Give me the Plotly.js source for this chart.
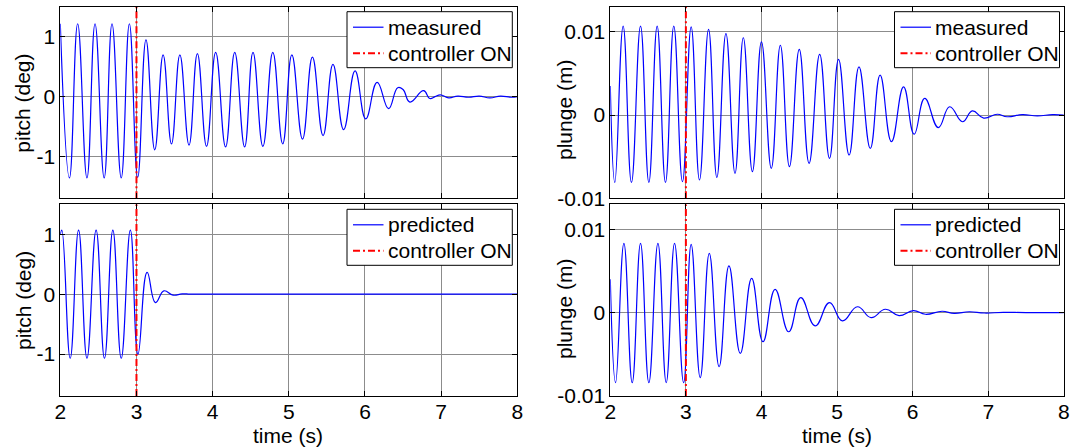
<!DOCTYPE html>
<html>
<head>
<meta charset="utf-8">
<script src="https://cdn.plot.ly/plotly-3.0.1.min.js"></script>
<style>html,body{margin:0;padding:0;background:#fff;}#chart{width:1070px;height:448px;}</style>
</head>
<body>
<div id="chart"></div>
<script>
// ---- data ----
const controllerOnTime = 3;

const pitchMeasuredTime = [2.00, 2.12, 2.228, 2.35, 2.456, 2.576, 2.679, 2.80, 2.907, 3.016, 3.125, 3.24, 3.35, 3.46, 3.57, 3.69, 3.80, 3.92, 4.04, 4.17, 4.29, 4.42, 4.53, 4.66, 4.79, 4.92, 5.04, 5.18, 5.31, 5.45, 5.58, 5.72, 5.87, 6.01, 6.16, 6.31, 6.43, 6.50, 6.59, 6.77, 6.85, 6.92, 6.99, 7.10, 7.22, 7.36, 7.50, 7.64, 7.78, 7.92, 8.00];
const pitchMeasured = [1.22, -1.36, 1.22, -1.36, 1.22, -1.36, 1.22, -1.36, 1.22, -1.35, 0.95, -0.89, 0.70, -0.79, 0.70, -0.81, 0.72, -0.83, 0.74, -0.84, 0.74, -0.84, 0.74, -0.83, 0.74, -0.79, 0.70, -0.71, 0.66, -0.65, 0.54, -0.55, 0.43, -0.37, 0.24, -0.20, 0.15, 0.12, -0.09, 0.10, -0.03, 0.00, 0.03, -0.02, 0.01, -0.01, 0.01, -0.02, 0.01, -0.01, 0.00];

const pitchPredictedTime = [2.00, 2.02, 2.13, 2.24, 2.35, 2.47, 2.58, 2.69, 2.80, 2.92, 3.02, 3.14, 3.25, 3.36, 3.48, 3.60, 3.70, 3.80, 4.00, 8.00];
const pitchPredicted = [1.00, 1.07, -1.07, 1.07, -1.07, 1.07, -1.07, 1.07, -1.07, 1.07, -1.00, 0.365, -0.14, 0.055, -0.017, 0.005, 0.00, 0.00, 0.00, 0.00];

const plungeMeasuredTime = [2.00, 2.06, 2.17, 2.28, 2.40, 2.51, 2.62, 2.73, 2.84, 2.955, 3.07, 3.18, 3.30, 3.41, 3.53, 3.65, 3.76, 3.88, 4.00, 4.13, 4.25, 4.37, 4.50, 4.63, 4.77, 4.90, 5.02, 5.16, 5.29, 5.44, 5.57, 5.72, 5.88, 6.02, 6.16, 6.34, 6.49, 6.66, 6.79, 6.94, 7.12, 7.25, 7.45, 7.65, 7.85, 8.00];
const plungeMeasured = [0.0035, -0.0081, 0.0107, -0.0081, 0.0107, -0.0081, 0.0107, -0.0081, 0.0107, -0.0080, 0.0106, -0.0078, 0.0103, -0.0075, 0.0098, -0.0070, 0.0093, -0.0068, 0.0088, -0.0064, 0.0084, -0.0062, 0.0079, -0.0058, 0.0073, -0.0052, 0.0067, -0.0048, 0.0058, -0.0040, 0.0048, -0.0032, 0.0034, -0.0023, 0.0020, -0.0015, 0.0010, -0.0008, 0.0005, -0.00036, 0.0001, -0.0002, 0.00005, -0.0001, 0.00005, 0.0];

const plungePredictedTime = [2.00, 2.07, 2.18, 2.29, 2.40, 2.51, 2.63, 2.74, 2.85, 2.97, 3.07, 3.19, 3.31, 3.44, 3.57, 3.72, 3.87, 4.02, 4.18, 4.36, 4.52, 4.71, 4.90, 5.07, 5.27, 5.45, 5.64, 5.82, 6.01, 6.17, 6.39, 6.55, 6.75, 6.95, 7.20, 7.50, 8.00];
const plungePredicted = [0.0040, -0.0084, 0.0083, -0.0084, 0.0083, -0.0084, 0.0083, -0.0084, 0.0083, -0.0084, 0.0082, -0.0078, 0.0071, -0.0065, 0.0056, -0.0049, 0.0041, -0.0035, 0.0028, -0.0023, 0.0018, -0.0016, 0.0012, -0.0010, 0.0007, -0.0006, 0.0004, -0.00036, 0.00024, -0.0002, 0.00016, -0.0001, 0.0001, -0.00005, 0.00003, 0.0, 0.0];

const timeTicks = [2, 3, 4, 5, 6, 7, 8];
const pitchTicks = [-1, 0, 1];
const pitchTickText = ['-1', '0', '1'];
const plungeTicks = [-0.01, 0, 0.01];
const plungeTickText = ['-0.01', '0', '0.01'];
const pitchRange = [-1.7, 1.5];
const plungeRange = [-0.01001, 0.013];
const timeRange = [2, 8];

// ---- styling ----
const FONT = 'Liberation Sans, Arial, Helvetica, sans-serif';
const FS = 21;
const blueLine = {color: '#0000ff', width: 1.2};
const redLine = {color: '#ff0000', width: 2, dash: '7px,3px,2px,3px'};

function sig(x, y, name, xa, ya) {
  return {x: x, y: y, name: name, xaxis: xa, yaxis: ya, type: 'scatter', mode: 'lines', showlegend: false,
    line: Object.assign({shape: 'spline', smoothing: 1.3}, blueLine), hoverinfo: 'skip'};
}
function ctrl(range, xa, ya) {
  return {x: [controllerOnTime, controllerOnTime], y: range, name: 'controller ON', xaxis: xa, yaxis: ya, showlegend: false,
    type: 'scatter', mode: 'lines', line: redLine, hoverinfo: 'skip'};
}

const data = [
  sig(pitchMeasuredTime, pitchMeasured, 'measured', 'x', 'y'),
  ctrl(pitchRange, 'x', 'y'),
  sig(plungeMeasuredTime, plungeMeasured, 'measured', 'x2', 'y2'),
  ctrl(plungeRange, 'x2', 'y2'),
  sig(pitchPredictedTime, pitchPredicted, 'predicted', 'x3', 'y3'),
  ctrl(pitchRange, 'x3', 'y3'),
  sig(plungePredictedTime, plungePredicted, 'predicted', 'x4', 'y4'),
  ctrl(plungeRange, 'x4', 'y4')
];

const W = 1070, H = 448;
const leftDom = [60.3 / W, 517.3 / W];
const rightDom = [610.3 / W, 1063.8 / W];
const topDom = [1 - 198.3 / H, 1 - 7 / H];
const botDom = [1 - 396 / H, 1 - 204.3 / H];

function ax(extra) {
  return Object.assign({
    showline: true, mirror: 'ticks', linecolor: '#000', linewidth: 1,
    showgrid: true, gridcolor: '#8c8c8c', gridwidth: 1, zeroline: false,
    ticks: 'inside', ticklen: 5, tickcolor: '#000', tickwidth: 1,
    tickfont: {family: FONT, size: FS, color: '#000'}, fixedrange: true
  }, extra);
}
function xax(dom, anchor, showLabels) {
  return ax({domain: dom, anchor: anchor, range: timeRange, tickmode: 'array', tickvals: timeTicks,
    ticktext: timeTicks.map(String), showticklabels: showLabels, ticklabeloverflow: 'allow', ticklabelstandoff: -3});
}
function yax(dom, anchor, range, tv, tt) {
  return ax({domain: dom, anchor: anchor, range: range, tickmode: 'array', tickvals: tv, ticktext: tt});
}
function ann(text, xp, yp, angle, xanchor) {
  return {text: text, x: xp / W, y: 1 - yp / H, xref: 'paper', yref: 'paper', showarrow: false,
    textangle: angle, xanchor: xanchor || 'center', yanchor: 'middle', borderpad: 0,
    font: {family: FONT, size: FS, color: '#000'}};
}

// legend boxes drawn in paper coordinates (pixel geometry of the reference legend)
const shapes = [];
const annotations = [
  ann('pitch (deg)', 23, 103.7, -90),
  ann('pitch (deg)', 23, 301, -90),
  ann('plunge (m)', 564, 110, -90),
  ann('plunge (m)', 564, 309, -90),
  ann('time (s)', 288, 435, 0),
  ann('time (s)', 837, 435, 0)
];
function legendBox(x0, x1, y0, label) {
  const y1 = y0 + 56;
  shapes.push({type: 'rect', xref: 'paper', yref: 'paper', x0: x0 / W, x1: x1 / W, y0: 1 - y0 / H, y1: 1 - y1 / H,
    fillcolor: '#fff', line: {color: '#000', width: 1}, layer: 'above'});
  const rows = [[label, blueLine, y0 + 15.5], ['controller ON', redLine, y0 + 41.5]];
  rows.forEach(function (r) {
    shapes.push({type: 'line', xref: 'paper', yref: 'paper', x0: (x0 + 6) / W, x1: (x0 + 36.5) / W,
      y0: 1 - r[2] / H, y1: 1 - r[2] / H, line: r[1], layer: 'above'});
    annotations.push(ann(r[0], x0 + 39.5, r[2], 0, 'left'));
  });
}
legendBox(347, 512.3, 11.7, 'measured');
legendBox(894.5, 1059.5, 11.7, 'measured');
legendBox(347, 512.3, 209.3, 'predicted');
legendBox(894.5, 1059.5, 209.3, 'predicted');

const layout = {
  width: W, height: H, margin: {l: 0, r: 0, t: 0, b: 0},
  paper_bgcolor: '#fff', plot_bgcolor: '#fff', showlegend: false,
  xaxis: xax(leftDom, 'y', false),
  yaxis: yax(topDom, 'x', pitchRange, pitchTicks, pitchTickText),
  xaxis2: xax(rightDom, 'y2', false),
  yaxis2: yax(topDom, 'x2', plungeRange, plungeTicks, plungeTickText),
  xaxis3: xax(leftDom, 'y3', true),
  yaxis3: yax(botDom, 'x3', pitchRange, pitchTicks, pitchTickText),
  xaxis4: xax(rightDom, 'y4', true),
  yaxis4: yax(botDom, 'x4', plungeRange, plungeTicks, plungeTickText),
  shapes: shapes,
  annotations: annotations
};

Plotly.newPlot('chart', data, layout, {displayModeBar: false, staticPlot: true});
</script>
</body>
</html>
